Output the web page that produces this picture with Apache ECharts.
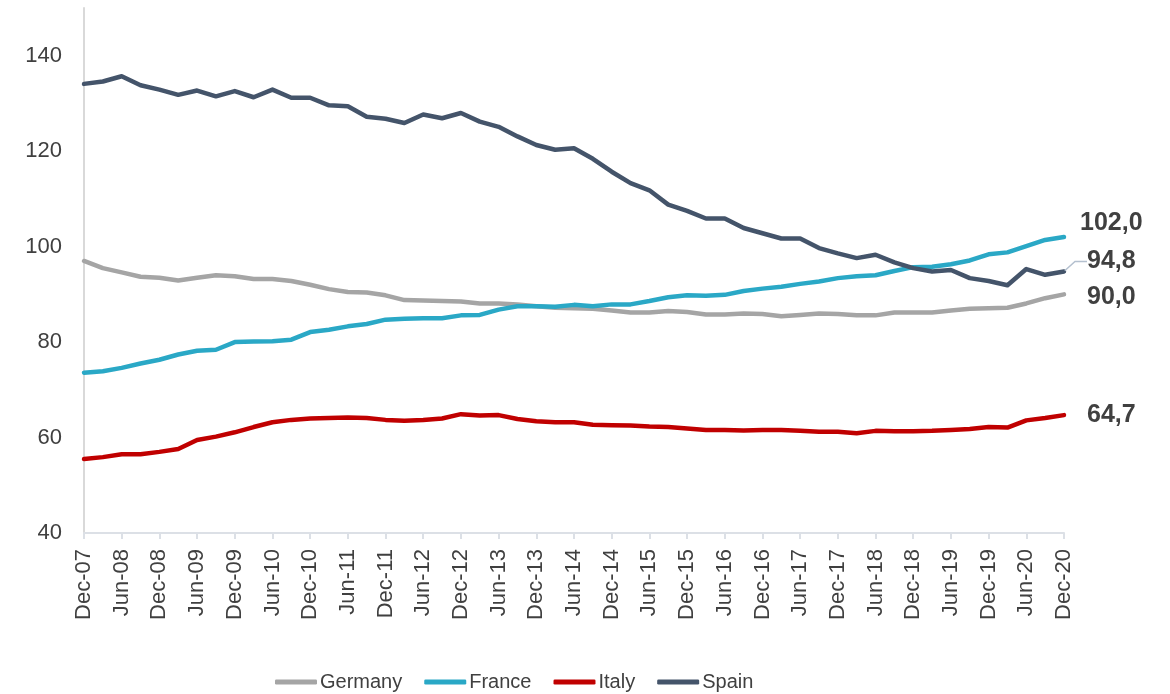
<!DOCTYPE html>
<html>
<head>
<meta charset="utf-8">
<script src="https://cdn.jsdelivr.net/npm/echarts@6/dist/echarts.min.js"></script>
<style>
html,body{margin:0;padding:0;background:#fff;}
#chart{width:1170px;height:694px;}
</style>
</head>
<body>
<div id="chart"></div>
<script>
const categories = ['Dec-07','Mar-08','Jun-08','Sep-08','Dec-08','Mar-09','Jun-09','Sep-09','Dec-09','Mar-10','Jun-10','Sep-10','Dec-10','Mar-11','Jun-11','Sep-11','Dec-11','Mar-12','Jun-12','Sep-12','Dec-12','Mar-13','Jun-13','Sep-13','Dec-13','Mar-14','Jun-14','Sep-14','Dec-14','Mar-15','Jun-15','Sep-15','Dec-15','Mar-16','Jun-16','Sep-16','Dec-16','Mar-17','Jun-17','Sep-17','Dec-17','Mar-18','Jun-18','Sep-18','Dec-18','Mar-19','Jun-19','Sep-19','Dec-19','Mar-20','Jun-20','Sep-20','Dec-20'];

const germany = [97.0,95.5,94.6,93.7,93.5,92.9,93.5,94.0,93.8,93.2,93.2,92.8,92.0,91.1,90.5,90.4,89.8,88.8,88.7,88.6,88.5,88.1,88.1,87.9,87.5,87.2,87.1,87.0,86.6,86.2,86.2,86.5,86.3,85.8,85.8,86.0,85.9,85.4,85.7,86.0,85.9,85.6,85.6,86.2,86.2,86.2,86.6,87.0,87.1,87.2,88.1,89.2,90.0];
const france = [73.6,73.9,74.6,75.5,76.3,77.4,78.2,78.4,80.0,80.1,80.2,80.5,82.1,82.6,83.3,83.8,84.7,84.9,85.0,85.0,85.6,85.7,86.8,87.5,87.5,87.4,87.8,87.5,87.9,87.9,88.6,89.4,89.8,89.7,89.9,90.7,91.2,91.6,92.2,92.7,93.4,93.8,94.0,94.9,95.7,95.8,96.3,97.1,98.4,98.8,100.1,101.4,102.0];
const italy = [55.5,55.9,56.5,56.5,57.0,57.6,59.5,60.2,61.1,62.2,63.2,63.7,64.0,64.1,64.2,64.1,63.7,63.5,63.7,64.0,64.9,64.6,64.7,63.9,63.4,63.2,63.2,62.7,62.6,62.5,62.3,62.2,61.9,61.6,61.6,61.5,61.6,61.6,61.4,61.2,61.2,60.9,61.4,61.3,61.3,61.4,61.6,61.8,62.2,62.1,63.6,64.1,64.7];
const spain = [134.1,134.6,135.7,133.8,132.9,131.8,132.7,131.5,132.6,131.3,132.9,131.2,131.2,129.6,129.4,127.2,126.8,125.9,127.7,126.9,128.0,126.2,125.1,123.1,121.3,120.3,120.6,118.4,115.7,113.3,111.8,108.8,107.5,105.9,105.9,103.9,102.8,101.7,101.7,99.7,98.6,97.6,98.3,96.7,95.5,94.8,95.1,93.4,92.8,91.9,95.3,94.1,94.8];

const yTicks = [40, 60, 80, 100, 120, 140];

const FONT = "'Liberation Sans', Arial, sans-serif";
const TXT = '#404040';

function endLabelData(arr, color, labelOpt) {
  return arr.map((v, i) => i === arr.length - 1
    ? { value: v, symbol: 'circle', symbolSize: 2, itemStyle: { color: color },
        label: Object.assign({
        show: true, position: 'right', fontFamily: FONT, fontSize: 25, fontWeight: 'bold', color: TXT,
        formatter: p => Number(p.value).toFixed(1).replace('.', ',')
      }, labelOpt) }
    : v);
}

const chart = echarts.init(document.getElementById('chart'), null, { renderer: 'canvas' });
chart.setOption({
  animation: false,
  backgroundColor: '#ffffff',
  grid: { left: 84, right: 106, top: 8, bottom: 161, containLabel: false },
  legend: {
    left: 270, top: 667,
    icon: 'roundRect', itemWidth: 42, itemHeight: 5, itemGap: 22,
    textStyle: { fontFamily: FONT, fontSize: 20, color: TXT, padding: [0, 0, 0, -2] },
    data: ['Germany', 'France', 'Italy', 'Spain']
  },
  xAxis: {
    type: 'category', data: categories, boundaryGap: false,
    axisLine: { lineStyle: { color: '#DCE0E6', width: 2 } },
    axisTick: { show: true, interval: 1, length: 6, lineStyle: { color: '#DCE0E6', width: 2 } },
    axisLabel: { interval: 1, rotate: 90, margin: 16, fontFamily: FONT, fontSize: 22, color: TXT }
  },
  yAxis: {
    type: 'value', min: 40, max: 150, interval: 20,
    splitLine: { show: false },
    axisLine: { show: true, lineStyle: { color: '#D9D9D9', width: 2 } },
    axisTick: { show: false },
    axisLabel: {
      margin: 22, fontFamily: FONT, fontSize: 22, color: TXT,
      formatter: v => yTicks.indexOf(v) >= 0 ? String(v) : ''
    }
  },
  series: [
    { name: 'Germany', type: 'line', symbol: 'none', showSymbol: true, z: 2,
      lineStyle: { color: '#A5A5A5', width: 4.5, cap: 'round', join: 'round' }, itemStyle: { color: '#A5A5A5' },
      data: endLabelData(germany, '#A5A5A5', { distance: 22 }), labelLayout: { dy: 3 } },
    { name: 'France', type: 'line', symbol: 'none', showSymbol: true, z: 3,
      lineStyle: { color: '#2AA8C6', width: 4.5, cap: 'round', join: 'round' }, itemStyle: { color: '#2AA8C6' },
      data: endLabelData(france, '#2AA8C6', { distance: 15 }), labelLayout: { dy: -14 } },
    { name: 'Italy', type: 'line', symbol: 'none', showSymbol: true, z: 2,
      lineStyle: { color: '#C00000', width: 4.5, cap: 'round', join: 'round' }, itemStyle: { color: '#C00000' },
      data: endLabelData(italy, '#C00000', { distance: 22 }) },
    { name: 'Spain', type: 'line', symbol: 'none', showSymbol: true, z: 4,
      lineStyle: { color: '#44546A', width: 4.5, cap: 'round', join: 'round' }, itemStyle: { color: '#44546A' },
      data: endLabelData(spain, '#44546A', { distance: 22 }), labelLayout: { dy: -10 },
      labelLine: { show: true, length2: 12, minTurnAngle: 90, lineStyle: { color: '#B4C0CF', width: 1.5 } } }
  ]
});
</script>
</body>
</html>
